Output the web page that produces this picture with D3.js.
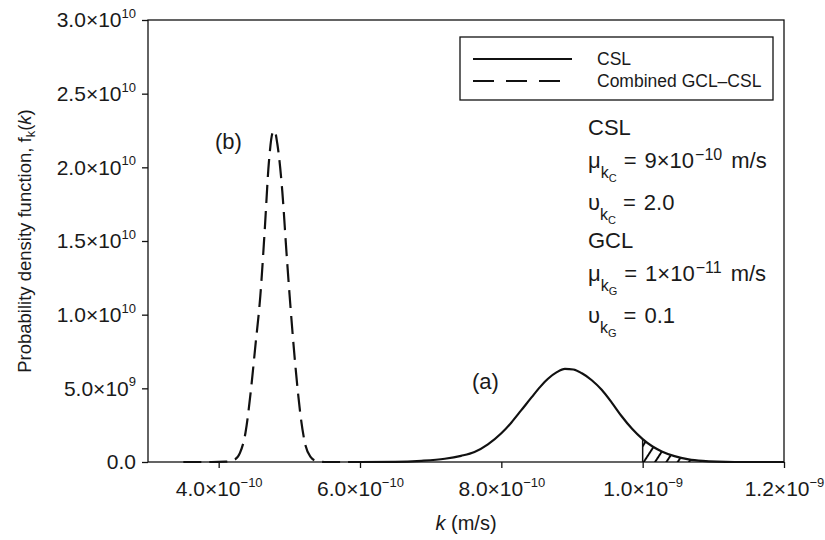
<!DOCTYPE html>
<html>
<head>
<meta charset="utf-8">
<script src="https://cdn.jsdelivr.net/npm/d3@7"></script>
<style>
  body { margin: 0; background: #fff; }
  text { font-family: "Liberation Sans", Arial, sans-serif; fill: #1a1a1a; }
</style>
</head>
<body>
<div id="chart"></div>
<script>
// k in units of 1e-10 m/s, density in units of 1e9
// (a) CSL
var cslK = [6.00, 6.50, 6.87, 7.20, 7.43, 7.62, 7.81, 8.00, 8.14, 8.28, 8.43, 8.55, 8.66, 8.78, 8.90,
  9.02, 9.14, 9.28, 9.42, 9.56, 9.70, 9.85, 10.00, 10.14, 10.27, 10.45, 10.65, 10.85, 11.05, 11.30, 12.00];
var cslF = [0, 0.01, 0.08, 0.22, 0.42, 0.68, 1.20, 1.95, 2.67, 3.50, 4.40, 5.10, 5.65, 6.08, 6.32,
  6.28, 6.02, 5.55, 4.90, 4.05, 3.12, 2.25, 1.55, 1.05, 0.72, 0.40, 0.18, 0.07, 0.02, 0, 0];

// (b) combined GCL-CSL
var combK = [3.50, 3.90, 4.10, 4.22, 4.30, 4.38, 4.45, 4.52, 4.59, 4.65, 4.71, 4.76, 4.79, 4.83,
  4.90, 4.96, 5.02, 5.09, 5.16, 5.23, 5.30, 5.38, 5.50, 6.00];
var combF = [0, 0, 0.02, 0.15, 0.6, 2.0, 4.6, 7.9, 11.3, 15.6, 20.3, 22.3, 22.5, 21.6,
  18.4, 14.2, 10.3, 6.3, 3.1, 1.1, 0.35, 0.08, 0, 0];

// hatched exceedance region starts here
var limitK = 10.0;

var xTickValues = [4, 6, 8, 10, 12];
var xTickLabels = [["4.0", "\u221210"], ["6.0", "\u221210"], ["8.0", "\u221210"], ["1.0", "\u22129"], ["1.2", "\u22129"]];
var yTickValues = [0, 5, 10, 15, 20, 25, 30];
var yTickLabels = [["0.0", ""], ["5.0", "9"], ["1.0", "10"], ["1.5", "10"], ["2.0", "10"], ["2.5", "10"], ["3.0", "10"]];

var legendNames = ["CSL", "Combined GCL\u2013CSL"];
var paramNames = ["CSL", "GCL"];
var paramSubs = ["C", "G"];
var paramMu = [["9", "\u221210"], ["1", "\u221211"]];
var paramCov = ["2.0", "0.1"];

var svgWidth = 825;
var svgHeight = 540;
var margin = { top: 20, right: 41, bottom: 78, left: 148 };
var width = svgWidth - margin.left - margin.right;
var height = svgHeight - margin.top - margin.bottom;

var svg = d3.select("#chart")
  .append("svg")
  .attr("width", svgWidth)
  .attr("height", svgHeight);

var chartGroup = svg.append("g")
  .attr("transform", `translate(${margin.left}, ${margin.top})`);

var xScale = d3.scaleLinear().domain([3, 12]).range([0, width]);
var yScale = d3.scaleLinear().domain([0, 30]).range([height, 0]);

// hatch pattern
svg.append("defs").append("pattern")
  .attr("id", "hatch")
  .attr("patternUnits", "userSpaceOnUse")
  .attr("width", 9.5).attr("height", 9.5)
  .attr("patternTransform", "rotate(33)")
  .append("line")
  .attr("x1", 1).attr("y1", -1).attr("x2", 1).attr("y2", 11)
  .attr("stroke", "#000").attr("stroke-width", 1.9);

// axes
var bottomAxis = d3.axisBottom(xScale).tickValues(xTickValues).tickSize(6).tickSizeOuter(0).tickPadding(13);
var leftAxis = d3.axisLeft(yScale).tickValues(yTickValues).tickSize(6).tickSizeOuter(0).tickPadding(6);

var xAxisG = chartGroup.append("g")
  .attr("transform", `translate(0, ${height})`)
  .call(bottomAxis);
var yAxisG = chartGroup.append("g").call(leftAxis);

[xAxisG, yAxisG].forEach(function (g) {
  g.select(".domain").remove();
  g.selectAll(".tick line").attr("stroke", "#111").attr("stroke-width", 1.3);
  g.selectAll(".tick text").attr("font-size", 21).attr("font-family", null).attr("fill", "#1a1a1a");
});

function sciLabel(sel, labels) {
  sel.selectAll(".tick text").each(function (d, i) {
    var t = d3.select(this).text(null);
    var lab = labels[i];
    t.append("tspan").text(lab[1] ? lab[0] + "\u00d710" : lab[0]);
    if (lab[1]) {
      t.append("tspan").attr("dy", "-0.7em").attr("font-size", "0.62em").text(lab[1]);
    }
  });
}
sciLabel(xAxisG, xTickLabels);
sciLabel(yAxisG, yTickLabels);

// frame
chartGroup.append("rect")
  .attr("width", width).attr("height", height)
  .attr("fill", "none").attr("stroke", "#111").attr("stroke-width", 1.3);

var cslData = cslK.map((k, i) => ({ k: k, f: cslF[i] }));
var combData = combK.map((k, i) => ({ k: k, f: combF[i] }));

var line = d3.line()
  .x(d => xScale(d.k))
  .y(d => yScale(d.f))
  .curve(d3.curveMonotoneX);

// hatched tail above the limit
var tailData = cslData.filter(d => d.k >= limitK);
chartGroup.append("path")
  .datum(tailData)
  .attr("fill", "url(#hatch)")
  .attr("d", d3.area().x(d => xScale(d.k)).y0(yScale(0)).y1(d => yScale(d.f)).curve(d3.curveMonotoneX));
chartGroup.append("line")
  .attr("x1", xScale(limitK)).attr("x2", xScale(limitK))
  .attr("y1", yScale(0)).attr("y2", yScale(tailData[0].f))
  .attr("stroke", "#111").attr("stroke-width", 1.5);

chartGroup.append("path")
  .datum(cslData)
  .attr("fill", "none").attr("stroke", "#111").attr("stroke-width", 2.2)
  .attr("d", line);

chartGroup.append("path")
  .datum(combData)
  .attr("fill", "none").attr("stroke", "#111").attr("stroke-width", 2.2)
  .attr("stroke-dasharray", "18,8")
  .attr("d", line);

// legend
var legend = svg.append("g");
legend.append("rect")
  .attr("x", 460).attr("y", 37).attr("width", 313).attr("height", 63)
  .attr("fill", "#fff").attr("stroke", "#111").attr("stroke-width", 1.3);
legend.append("line").attr("x1", 473).attr("x2", 572).attr("y1", 59).attr("y2", 59)
  .attr("stroke", "#111").attr("stroke-width", 2.2);
legend.append("line").attr("x1", 473).attr("x2", 562).attr("y1", 81).attr("y2", 81)
  .attr("stroke", "#111").attr("stroke-width", 2.2).attr("stroke-dasharray", "21,12");
legend.selectAll("text.leg")
  .data(legendNames)
  .enter()
  .append("text")
  .attr("x", 597)
  .attr("y", (d, i) => 65 + i * 22)
  .attr("font-size", 17.5)
  .text(d => d);

// parameter annotations
var ann = svg.append("g");
var lineY = [[135, 168, 210], [248, 281, 323]];
paramNames.forEach(function (name, i) {
  ann.append("text").attr("x", 588).attr("y", lineY[i][0]).attr("font-size", 22).text(name);

  var mu = ann.append("text").attr("x", 588).attr("y", lineY[i][1]).attr("font-size", 22);
  mu.append("tspan").text("\u03bc");
  mu.append("tspan").attr("font-size", 16).attr("dy", 10).text("k");
  mu.append("tspan").attr("font-size", 11).attr("dy", 4).text(paramSubs[i]);
  mu.append("tspan").attr("font-size", 22).attr("dy", -14).attr("dx", 7).text("=");
  mu.append("tspan").attr("font-size", 22).attr("dx", 8).text(paramMu[i][0] + "\u00d710");
  mu.append("tspan").attr("font-size", 16).attr("dy", -8).attr("dx", 1).text(paramMu[i][1]);
  mu.append("tspan").attr("font-size", 22).attr("dy", 8).attr("dx", 9).text("m/s");

  var cv = ann.append("text").attr("x", 588).attr("y", lineY[i][2]).attr("font-size", 22);
  cv.append("tspan").text("\u03c5");
  cv.append("tspan").attr("font-size", 16).attr("dy", 10).text("k");
  cv.append("tspan").attr("font-size", 11).attr("dy", 4).text(paramSubs[i]);
  cv.append("tspan").attr("font-size", 22).attr("dy", -14).attr("dx", 7).text("=");
  cv.append("tspan").attr("font-size", 22).attr("dx", 8).text(paramCov[i]);
});

// curve labels
svg.append("text").attr("x", 472).attr("y", 389).attr("font-size", 22).text("(a)");
svg.append("text").attr("x", 215).attr("y", 149).attr("font-size", 22).text("(b)");

// axis titles
var yTitle = svg.append("text")
  .attr("transform", "translate(31, 241) rotate(-90)")
  .attr("text-anchor", "middle")
  .attr("font-size", 18.5);
yTitle.append("tspan").text("Probability density function, f");
yTitle.append("tspan").attr("font-size", 13).attr("dy", 4).text("k");
yTitle.append("tspan").attr("dy", -4).text("(");
yTitle.append("tspan").attr("font-style", "italic").text("k");
yTitle.append("tspan").text(")");

var xTitle = svg.append("text")
  .attr("x", 466).attr("y", 530)
  .attr("text-anchor", "middle")
  .attr("font-size", 20);
xTitle.append("tspan").attr("font-style", "italic").text("k");
xTitle.append("tspan").text(" (m/s)");
</script>
</body>
</html>
